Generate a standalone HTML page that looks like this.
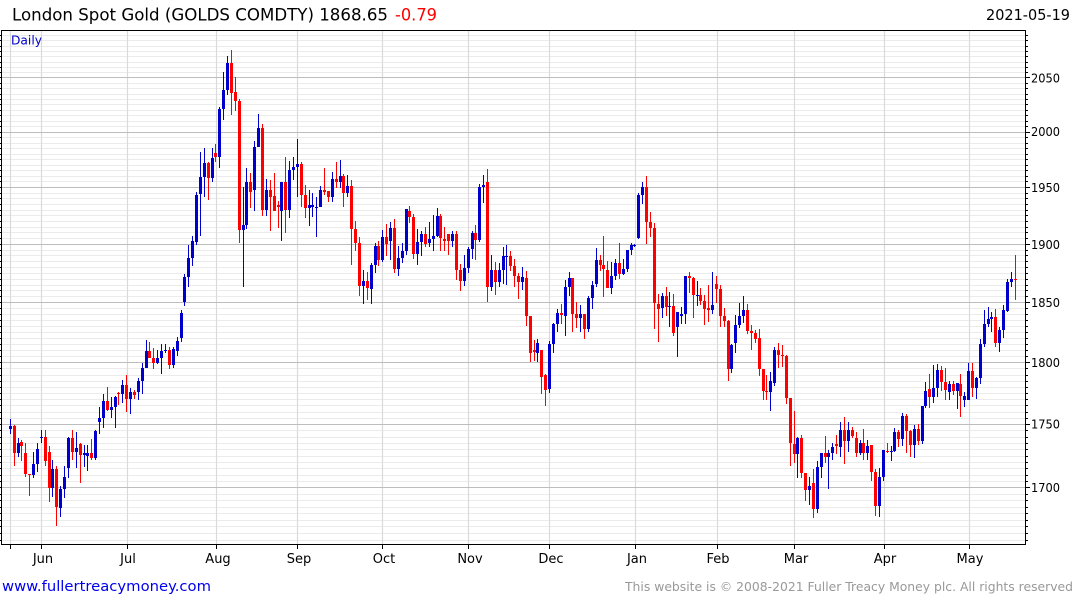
<!DOCTYPE html>
<html><head><meta charset="utf-8">
<style>
html,body{margin:0;padding:0;background:#fff;width:1075px;height:600px;overflow:hidden}
svg{display:block}
text{font-family:"DejaVu Sans","Liberation Sans",sans-serif}
</style></head><body>
<svg id="c" width="1075" height="600" viewBox="0 0 1075 600" xmlns="http://www.w3.org/2000/svg">
<rect x="0" y="0" width="1075" height="600" fill="#fff"/>
<g id="grid"></g>
<g id="candles"></g>
<path d="M1.5 30.5H1025.5V544.5H1.5Z" fill="none" stroke="#000" stroke-width="1"/>
<g id="ticks"></g>
<text x="12" y="20.5" font-size="16.6" fill="#000" textLength="376" lengthAdjust="spacingAndGlyphs">London Spot Gold (GOLDS COMDTY) 1868.65</text>
<text x="395" y="20.5" font-size="16.6" fill="#ff0000" textLength="42" lengthAdjust="spacingAndGlyphs">-0.79</text>
<text x="986" y="20" font-size="15.5" fill="#000" textLength="84" lengthAdjust="spacingAndGlyphs">2021-05-19</text>
<text x="11" y="44.5" font-size="12.5" fill="#0000cc" textLength="31" lengthAdjust="spacingAndGlyphs">Daily</text>
<g font-size="12.5" fill="#000">
<text x="1031" y="492" textLength="29" lengthAdjust="spacingAndGlyphs">1700</text>
<text x="1031" y="428.6" textLength="29" lengthAdjust="spacingAndGlyphs">1750</text>
<text x="1031" y="366.8" textLength="29" lengthAdjust="spacingAndGlyphs">1800</text>
<text x="1031" y="306.8" textLength="29" lengthAdjust="spacingAndGlyphs">1850</text>
<text x="1031" y="249" textLength="29" lengthAdjust="spacingAndGlyphs">1900</text>
<text x="1031" y="192" textLength="29" lengthAdjust="spacingAndGlyphs">1950</text>
<text x="1031" y="136" textLength="29" lengthAdjust="spacingAndGlyphs">2000</text>
<text x="1031" y="82.3" textLength="29" lengthAdjust="spacingAndGlyphs">2050</text>
</g>
<g font-size="13" fill="#000" text-anchor="middle">
<text x="43" y="563">Jun</text>
<text x="128" y="563">Jul</text>
<text x="218" y="563">Aug</text>
<text x="299" y="563">Sep</text>
<text x="384" y="563">Oct</text>
<text x="470" y="563">Nov</text>
<text x="551" y="563">Dec</text>
<text x="637" y="563">Jan</text>
<text x="718" y="563">Feb</text>
<text x="796" y="563">Mar</text>
<text x="885" y="563">Apr</text>
<text x="970" y="563">May</text>
</g>
<text x="2" y="591" font-size="14.5" fill="#0000ee" textLength="209" lengthAdjust="spacingAndGlyphs">www.fullertreacymoney.com</text>
<text x="625" y="591" font-size="12.8" fill="#999999" textLength="448" lengthAdjust="spacingAndGlyphs">This website is © 2008-2021 Fuller Treacy Money plc. All rights reserved</text>
</svg>
<script>
(function(){
var D=[
[0,419,434,426,429],[1,425,466,426,453],[0,438,457,443,453],[1,440,461,442,446],[1,443,477,453,474],
[1,474,496,474,475],[0,452,478,464,475],[0,443,472,449,464],[0,430,443,437,438],[1,430,466,437,461],
[1,446,502,452,488],[0,460,497,469,488],[1,466,526,469,507],[0,486,517,489,508],[0,466,498,477,489],
[0,437,478,438,468],[1,430,460,438,452],[0,432,468,448,452],[1,443,483,444,455],[0,445,467,453,455],
[0,445,471,453,456],[1,439,460,453,458],[0,430,460,431,458],[0,407,434,418,422],[0,394,428,401,418],
[1,387,411,401,410],[0,397,418,407,410],[0,396,428,397,407],[1,392,405,393,394],[0,380,403,385,394],
[1,375,412,385,399],[0,388,414,392,399],[1,390,399,392,395],[0,378,400,381,392],[0,363,394,368,381],
[0,340,368,351,368],[1,342,358,351,358],[1,348,369,358,363],[0,350,364,358,363],[0,344,374,351,358],
[0,344,353,350,351],[1,347,369,350,365],[0,347,368,349,365],[0,337,356,341,351],[0,310,342,313,338],
[0,274,306,277,302],[0,245,287,258,277],[0,236,266,241,258],[0,192,245,195,242],[0,152,236,177,194],
[0,148,197,163,177],[1,162,200,163,178],[0,148,182,158,178],[1,144,162,153,157],[0,107,168,109,157],
[0,72,120,90,109],[0,56,95,63,90],[1,50,115,63,93],[1,77,111,92,101],[1,99,243,101,230],
[0,187,287,225,230],[0,168,229,182,225],[1,173,208,182,192],[0,141,211,147,190],[0,114,147,128,147],
[1,124,216,128,210],[0,179,216,190,210],[1,180,231,190,197],[1,173,211,196,211],[1,201,228,205,207],
[0,182,241,182,211],[1,157,233,182,210],[0,161,218,170,210],[0,157,180,167,170],[0,139,197,164,167],
[1,162,207,164,195],[1,185,218,195,208],[0,190,226,205,208],[0,193,217,205,207],[0,197,237,207,208],
[0,186,207,190,207],[1,168,195,190,192],[1,191,202,191,197],[0,172,202,179,197],[1,162,188,179,182],
[0,160,188,176,182],[1,174,207,176,193],[0,175,197,186,193],[1,180,265,186,229],[1,221,251,229,243],
[1,237,296,243,286],[0,270,304,281,286],[1,272,300,281,288],[0,263,304,265,289],[0,243,273,246,265],
[1,241,266,246,260],[0,230,262,237,260],[1,224,256,237,244],[0,222,260,228,241],[1,219,273,228,269],
[0,246,276,258,269],[0,243,263,251,258],[0,209,255,209,251],[1,206,223,211,217],[1,214,259,217,254],
[0,229,265,242,254],[0,231,256,234,242],[1,227,247,234,244],[0,222,247,239,243],[0,215,251,236,239],
[0,208,237,216,236],[1,214,251,216,238],[1,227,251,239,241],[1,234,255,234,241],[0,231,247,234,241],
[1,231,280,234,270],[1,264,291,270,281],[0,255,286,268,281],[0,247,273,249,268],[0,231,259,233,249],
[1,225,260,233,240],[0,184,242,187,240],[0,175,203,185,187],[1,169,302,182,287],[0,255,291,270,287],
[1,262,295,270,282],[0,263,287,270,282],[0,247,284,256,270],[0,245,285,256,257],[1,251,271,256,266],
[1,259,287,266,276],[1,273,299,276,282],[0,267,290,277,282],[1,271,326,278,316],[1,316,362,316,353],
[1,340,361,350,352],[0,339,362,343,353],[1,350,394,350,377],[1,374,406,375,390],[0,341,393,344,389],
[0,323,353,324,344],[0,309,332,313,324],[1,304,324,313,315],[0,280,336,287,316],[0,272,296,278,287],
[1,278,332,278,314],[1,302,328,314,318],[0,305,332,314,318],[1,314,339,314,329],[0,296,332,298,329],
[0,281,309,285,298],[0,248,287,260,284],[1,255,271,260,265],[1,236,297,265,269],[1,261,288,270,288],
[0,262,294,276,288],[0,259,280,263,276],[1,243,279,263,274],[0,259,275,269,274],[0,250,272,250,269],
[0,243,255,245,250],[0,244,247,245,246],[0,193,239,195,238],[0,182,204,187,195],[1,176,244,187,222],
[1,212,237,222,228],[1,223,329,228,303],[1,294,342,304,309],[0,293,318,296,308],[1,287,316,296,307],
[0,292,327,306,307],[1,294,336,306,333],[0,312,357,312,327],[0,307,324,314,316],[0,276,324,276,314],
[1,272,293,276,278],[1,277,318,278,295],[0,281,306,295,296],[1,288,305,295,301],[1,295,325,301,309],
[1,285,322,308,310],[0,272,314,305,310],[1,276,303,284,289],[1,285,327,289,316],[1,308,327,316,321],
[1,320,381,321,369],[0,344,373,345,369],[0,315,353,325,343],[0,303,328,316,325],[0,296,323,310,316],
[1,304,334,310,331],[1,325,350,331,333],[1,330,343,333,339],[1,329,376,338,369],[1,369,400,369,391],
[1,375,400,391,392],[0,372,411,381,392],[0,347,386,350,383],[1,343,368,350,355],[1,345,367,355,356],
[1,355,404,356,398],[1,398,466,398,443],[1,411,463,444,454],[0,437,478,438,454],[1,435,478,438,473],
[1,473,501,473,490],[0,477,505,486,490],[1,469,518,483,509],[0,461,513,467,509],[0,453,478,453,467],
[1,436,463,453,457],[0,450,489,453,457],[0,443,460,447,453],[1,435,454,444,446],[0,422,457,430,447],
[1,417,464,430,441],[0,422,452,430,441],[1,427,438,430,436],[1,432,457,438,453],[0,440,455,443,453],
[1,429,460,443,453],[0,440,460,446,453],[1,445,481,445,472],[1,469,516,472,506],[0,468,517,477,506],
[0,450,481,450,477],[1,443,453,451,452],[0,446,461,451,452],[0,428,452,432,451],[1,430,447,432,439],
[0,413,446,416,439],[1,414,453,416,431],[1,430,457,431,445],[0,425,458,429,445],[1,424,445,429,441],
[0,406,444,406,441],[0,382,408,391,406],[1,374,408,389,397],[0,365,403,388,397],[0,364,397,370,388],
[1,366,391,370,382],[1,368,400,382,390],[0,381,400,384,392],[1,381,395,384,391],[0,383,409,383,391],
[1,374,417,384,396],[0,392,407,396,400],[0,363,400,371,400],[1,363,397,371,388],[0,377,399,378,388],
[0,339,384,344,378],[0,310,347,324,344],[0,307,327,319,324],[0,312,332,317,319],[1,309,347,317,343],
[0,327,352,330,343],[0,305,338,310,330],[0,279,312,282,311],[0,272,287,279,282],[1,255,300,279,280]
];
var Y=function(p){return 362.3-2190*Math.log(p/1800);};
var g='',t='';
// minor horizontal lines
for(var p=1660;p<=2095;p+=5){
  var y=Y(p); if(y<31||y>543.5) continue;
  var yy=Math.round(y)+0.5;
  if(p%50!==0) g+='<line x1="2" x2="1025" y1="'+yy+'" y2="'+yy+'" stroke="#ebebeb" stroke-width="1"/>';
  var maj=(p%50===0);
  t+='<line x1="1026" x2="'+(maj?1030:1028)+'" y1="'+yy+'" y2="'+yy+'" stroke="#000" stroke-width="1"/>';
  t+='<line x1="0" x2="1.5" y1="'+yy+'" y2="'+yy+'" stroke="#000" stroke-width="1"/>';
}
// vertical month lines
var MX=[10.3,41.3,126.7,216.3,297.3,382.3,468.3,549.3,635.3,716.6,794.3,883.6,968.6];
for(var i=0;i<MX.length;i++){
  var x=Math.round(MX[i])+0.5;
  g+='<line x1="'+x+'" x2="'+x+'" y1="31" y2="544" stroke="#dadada" stroke-width="1.2"/>';
  t+='<line x1="'+x+'" x2="'+x+'" y1="544" y2="549" stroke="#000" stroke-width="1"/>';
}
// major horizontal lines
for(var p=1700;p<=2050;p+=50){
  var yy=Math.round(Y(p))+0.5;
  g+='<line x1="2" x2="1025" y1="'+yy+'" y2="'+yy+'" stroke="#bdbdbd" stroke-width="1.1"/>';
}
document.getElementById('grid').innerHTML=g;
document.getElementById('ticks').innerHTML=t;
var c='';
for(var i=0;i<D.length;i++){
  var d=D[i], cx=10.3+3.88*i, L=Math.round(cx-1.5);
  var col=d[0]?'#ff0000':'#0000cc';
  var wt=d[1], wb=d[2], bt=d[3], bb=d[4];
  var bh=Math.max(1,bb-bt);
  c+='<rect x="'+(L+1)+'" y="'+wt+'" width="1" height="'+Math.max(1,wb-wt)+'" fill="'+col+'"/>';
  c+='<rect x="'+L+'" y="'+bt+'" width="3" height="'+bh+'" fill="'+col+'"/>';
}
document.getElementById('candles').innerHTML=c;
})();
</script>
</body></html>
